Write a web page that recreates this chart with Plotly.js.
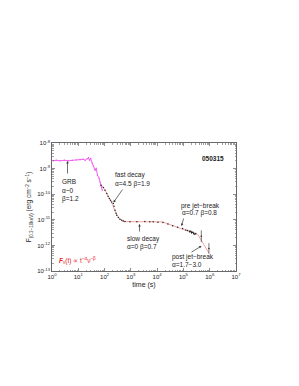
<!DOCTYPE html>
<html>
<head>
<meta charset="utf-8">
<script src="https://cdn.plot.ly/plotly-3.0.1.min.js"></script>
<style>html,body{margin:0;padding:0;background:#fff;}#chart{width:299px;height:386px;}</style>
</head>
<body>
<div id="chart"></div>
<script>
// ---- data (time in s, flux in erg cm^-2 s^-1) ----
var grbTime = [1.12, 1.45, 2.04, 2.95, 4.17, 5.89, 8.32, 11.7, 15.5, 18.2, 21.9, 24.5, 26.9, 29.5, 33.9, 38.0, 43.7, 47.9, 53.7, 61.7, 67.6, 74.1, 81.3];
var grbFlux = [2.02e-9, 2.12e-9, 2.02e-9, 2.12e-9, 2.02e-9, 2.12e-9, 2.21e-9, 2.21e-9, 2.32e-9, 2.12e-9, 2.40e-9, 2.65e-9, 2.12e-9, 2.50e-9, 1.62e-9, 1.24e-9, 8.63e-10, 1.03e-9, 5.51e-10, 4.21e-10, 2.94e-10, 2.06e-10, 1.44e-10];

var xrtTime = [73.6, 90.2, 104, 121, 136, 152, 169, 187, 215, 229, 250, 273, 290, 333, 386, 449, 515, 598,
               925, 1700, 3390, 5250, 7080, 10700, 16600,
               25700, 38900, 60300, 93300, 123000, 145000, 174000, 191000, 204000, 224000, 245000, 269000, 295000,
               479000, 933000];
var xrtFlux = [2.25e-10, 1.83e-10, 1.44e-10, 1.07e-10, 8.4e-11, 6.8e-11, 5.85e-11, 5.0e-11, 4.35e-11, 3.41e-11, 2.38e-11, 1.82e-11, 1.52e-11, 1.24e-11, 1.04e-11, 9.7e-12, 8.9e-12, 8.5e-12,
               8.3e-12, 8.3e-12, 8.5e-12, 8.3e-12, 8.3e-12, 8.1e-12, 7.8e-12,
               6.8e-12, 5.9e-12, 5.1e-12, 4.6e-12, 4.0e-12, 3.8e-12, 3.5e-12, 3.6e-12, 3.2e-12, 3.3e-12, 3.0e-12, 2.75e-12, 2.9e-12,
               2.29e-12, 7.6e-13];
var xrtErrPlus  = [0,0,0,0,0,0,0,0,0,0,0,0,0,0,0,0,0,0, 0,0,0,0,0,0,0, 0,0,0,0,0,0,0.4e-12,0,0.4e-12,0,0.4e-12,0,0, 1.6e-12, 4.7e-13];
var xrtErrMinus = [0,0,0,0,0,0,0,0,0,0,0,0,0,0,0,0,0,0, 0,0,0,0,0,0,0, 0,0,0,0,0,0,0.4e-12,0,0.4e-12,0,0.4e-12,0,0, 0.94e-12, 2.9e-13];

var modelTime = [70.8, 100, 141, 200, 282, 398, 562, 15800, 355000, 933000];
var modelFlux = [2.4e-10, 1.58e-10, 7.9e-11, 3.98e-11, 1.66e-11, 1.02e-11, 8.5e-12, 8.3e-12, 2.63e-12, 5.0e-13];

var xTickVals = [1, 10, 100, 1000, 1e4, 1e5, 1e6, 1e7];
var xTickText = ['10<sup>0</sup>', '10<sup>1</sup>', '10<sup>2</sup>', '10<sup>3</sup>', '10<sup>4</sup>', '10<sup>5</sup>', '10<sup>6</sup>', '10<sup>7</sup>'];
var yTickVals = [1e-13, 1e-12, 1e-11, 1e-10, 1e-9, 1e-8];
var yTickText = ['10<sup>-13</sup>', '10<sup>-12</sup>', '10<sup>-11</sup>', '10<sup>-10</sup>', '10<sup>-9</sup>', '10<sup>-8</sup>'];

// ---- layout helpers ----
var L = 52, R = 236, T = 143, B = 271;
function px(x) { return (x - L) / (R - L); }
function py(y) { return (B - y) / (B - T); }
function minorVals(lo, hi) {
  var v = [];
  for (var e = lo; e < hi; e++) for (var d = 2; d <= 9; d++) v.push(d * Math.pow(10, e));
  return v;
}
var FONT = 'Liberation Sans, Arial, sans-serif';

var traces = [
  { x: modelTime, y: modelFlux, mode: 'lines', line: { color: '#f4a3a3', width: 1 }, hoverinfo: 'skip' },
  { x: grbTime, y: grbFlux, mode: 'lines+markers', line: { color: '#f050f0', width: 0.9 },
    marker: { color: '#f050f0', size: 1.3 } },
  { x: xrtTime, y: xrtFlux, mode: 'markers', marker: { color: '#222', size: 1.5 },
    error_y: { type: 'data', symmetric: false, array: xrtErrPlus, arrayminus: xrtErrMinus, color: '#222', thickness: 0.6, width: 0 } }
];

function txt(x, y, s, extra) {
  var a = { xref: 'paper', yref: 'paper', x: px(x), y: py(y), text: s, showarrow: false,
            xanchor: 'left', yanchor: 'middle', font: { family: FONT, size: 6.5, color: '#222' } };
  if (extra) for (var k in extra) a[k] = extra[k];
  return a;
}
function arrow(x0, y0, x1, y1) {
  return { xref: 'paper', yref: 'paper', x: px(x1), y: py(y1), ax: x0 - x1, ay: y0 - y1,
           text: '', showarrow: true, arrowhead: 2, arrowsize: 0.7, arrowwidth: 0.7,
           arrowcolor: '#333', standoff: 0, startstandoff: 0 };
}

var annotations = [
  txt(60, 181.5, 'GRB'),
  txt(60, 190, 'α~0'),
  txt(60, 198.5, 'β=1.2'),
  arrow(67.5, 175, 67.5, 161),
  txt(113, 175, 'fast decay'),
  txt(113, 183.5, 'α=4.5 β=1.9'),
  arrow(123.5, 188, 113.5, 202.5),
  txt(212.5, 158, '<b>050315</b>', { xanchor: 'center' }),
  txt(178.5, 205.5, 'pre jet−break'),
  txt(179.5, 213, 'α=0.7 β=0.8'),
  arrow(184, 217, 181.5, 226),
  txt(125, 239, 'slow decay'),
  txt(125, 246.5, 'α=0 β=0.7'),
  arrow(139.5, 233, 139.5, 224),
  txt(170, 257, 'post jet−break'),
  txt(170, 264, 'α=1.7−3.0'),
  arrow(190, 253, 201.5, 246),
  txt(57, 260, '<b><i>F</i></b><sub>ν</sub>(t) ∝ t<sup>−α</sup>ν<sup>−β</sup>', { font: { family: FONT, size: 6.5, color: '#e8202c' } })
];

var axisCommon = {
  type: 'log', showline: true, linecolor: '#444', linewidth: 0.8, mirror: 'allticks',
  ticks: 'inside', ticklen: 3, tickwidth: 0.6, tickcolor: '#444', showgrid: false, zeroline: false,
  tickmode: 'array', tickfont: { family: FONT, size: 6, color: '#222' }
};

var layout = {
  width: 299, height: 386, showlegend: false,
  paper_bgcolor: '#fff', plot_bgcolor: '#fff',
  margin: { l: L, r: 299 - R, t: T, b: 386 - B, pad: 0 },
  font: { family: FONT },
  xaxis: Object.assign({}, axisCommon, {
    range: [0, 7], tickvals: xTickVals, ticktext: xTickText,
    minor: { tickvals: minorVals(0, 7), ticks: 'inside', ticklen: 1.5, tickwidth: 0.5, tickcolor: '#444' },
    title: { text: 'time (s)', font: { family: FONT, size: 7, color: '#222' }, standoff: 2 }
  }),
  yaxis: Object.assign({}, axisCommon, {
    range: [-13, -8], tickvals: yTickVals, ticktext: yTickText,
    minor: { tickvals: minorVals(-13, -8), ticks: 'inside', ticklen: 1.5, tickwidth: 0.5, tickcolor: '#444' },
    title: { text: 'F<sub>(0.3−10keV)</sub> (erg cm<sup>−2</sup> s<sup>−1</sup>)', font: { family: FONT, size: 6.5, color: '#222' }, standoff: 4 }
  }),
  annotations: annotations
};

Plotly.newPlot('chart', traces, layout, { displayModeBar: false, staticPlot: true });
</script>
</body>
</html>
